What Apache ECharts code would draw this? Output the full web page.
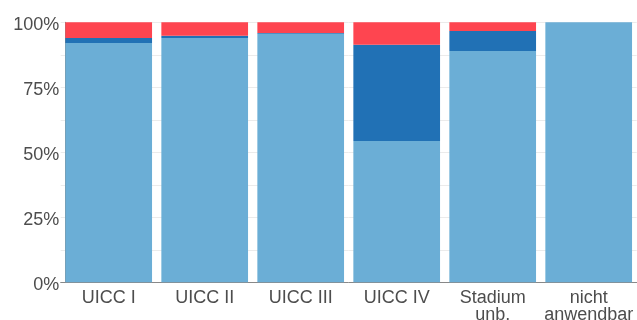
<!DOCTYPE html>
<html><head><meta charset="utf-8">
<script src="https://cdn.jsdelivr.net/npm/echarts@6/dist/echarts.min.js"></script>
<style>html,body{margin:0;padding:0;background:#fff}#c{width:637px;height:320px}</style>
</head><body><div id="c"></div>
<script>
var categories = ['UICC I', 'UICC II', 'UICC III', 'UICC IV', 'Stadium\nunb.', 'nicht\nanwendbar'];
var lightValues = [92.0, 94.0, 95.6, 54.3, 89.0, 100];
var darkValues = [2.0, 0.8, 0.3, 37.1, 7.7, 0];
var redValues = [6.0, 5.2, 4.1, 8.6, 3.3, 0];
var yTicks = [0, 25, 50, 75, 100];

var chart = echarts.init(document.getElementById('c'), null, {renderer: 'canvas'});
var font = 'Liberation Sans, Arial, sans-serif';
function bar(name, data, color) {
  return {name: name, type: 'bar', stack: 'a', data: data, barCategoryGap: '9.7%',
    itemStyle: {color: color}, emphasis: {disabled: true}, silent: true};
}
chart.setOption({
  animation: false,
  grid: {left: 60.7, right: 0.3, top: 22.3, bottom: 37.7, containLabel: false, outerBoundsMode: 'none'},
  xAxis: {type: 'category', data: categories,
    axisLine: {show: true, lineStyle: {color: '#888', width: 1}},
    axisTick: {show: false},
    axisLabel: {color: '#4d4d4d', fontFamily: font, fontSize: 18, margin: 7, lineHeight: 17, interval: 0}
  },
  yAxis: {type: 'value', min: 0, max: 100, interval: 12.5, offset: -4.6,
    axisLine: {show: true, lineStyle: {color: '#888', width: 1}},
    axisTick: {show: false},
    splitLine: {show: true, lineStyle: {color: '#ebebeb', width: 1}},
    axisLabel: {color: '#4d4d4d', fontFamily: font, fontSize: 18, margin: 6,
      verticalAlign: 'top', lineHeight: 6,
      formatter: function (v) { return yTicks.indexOf(v) >= 0 ? v + '%' : ''; }}
  },
  series: [
    bar('light', lightValues, '#6baed6'),
    bar('dark', darkValues, '#2171b5'),
    bar('red', redValues, '#fe4550')
  ]
});
</script></body></html>
